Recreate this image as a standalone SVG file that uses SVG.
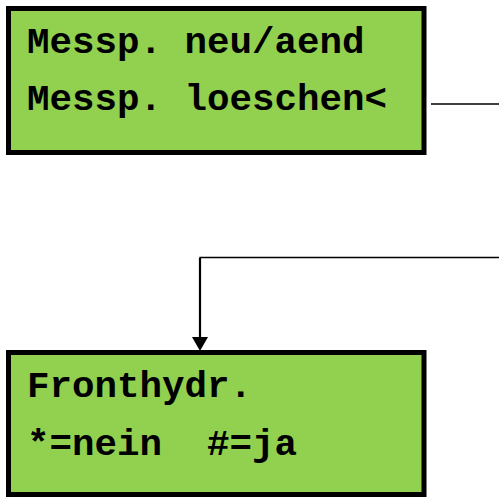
<svg xmlns="http://www.w3.org/2000/svg" width="499" height="498" viewBox="0 0 499 498">
<style>
.box{fill:#92D050;stroke:#000;stroke-width:5}
.t{font-family:"Liberation Mono","Courier New",monospace;font-weight:bold;font-size:37.5px;fill:#000;white-space:pre}
.c{fill:none;stroke:#000}
</style>
<rect width="499" height="498" fill="#fff"/>
<g id="connectors">
<line class="c" x1="431" y1="104" x2="499" y2="104" stroke-width="1.3"/>
<polyline class="c" points="499,257.5 200,257.5 200,338" stroke-width="1.3"/>
<line class="c" x1="200" y1="258" x2="200" y2="338" stroke-width="2.2"/>
<polygon points="192,337 208,337 200,351" fill="#000"/>
</g>
<g id="node1">
<rect class="box" x="8.5" y="8.5" width="415.5" height="144"/>
<text class="t" x="27" y="53">Messp. neu/aend</text>
<text class="t" x="27" y="110">Messp. loeschen&lt;</text>
</g>
<g id="node2">
<rect class="box" x="8.5" y="352.5" width="415.5" height="142"/>
<text class="t" x="27" y="397">Fronthydr.</text>
<text class="t" x="27" y="455" xml:space="preserve">*=nein  #=ja</text>
</g>
</svg>
